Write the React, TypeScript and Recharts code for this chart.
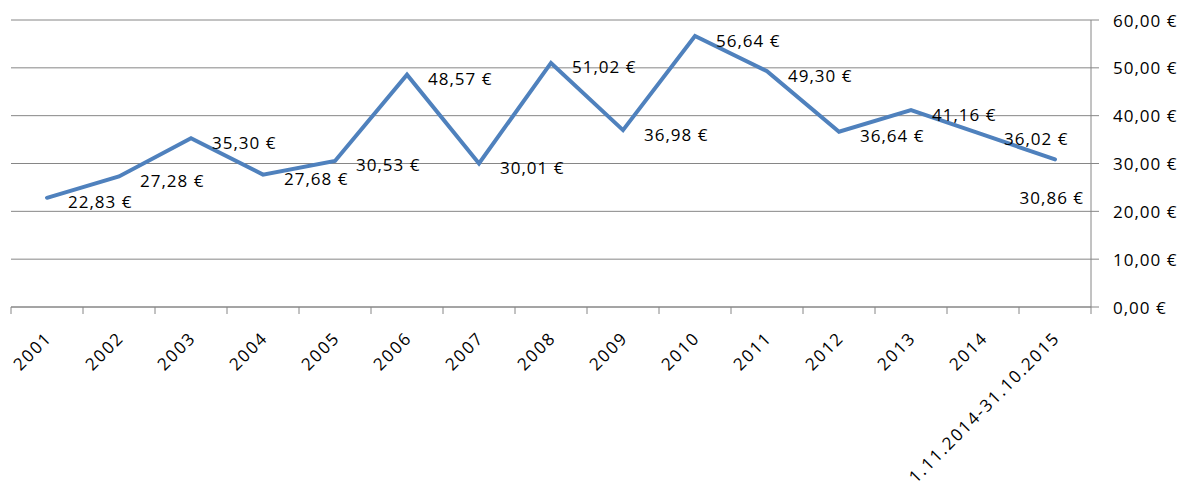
import React from 'react';
import { ComposedChart, Line, XAxis, YAxis, CartesianGrid, LabelList } from 'recharts';

const categories = ['2001', '2002', '2003', '2004', '2005', '2006', '2007', '2008', '2009', '2010', '2011', '2012', '2013', '2014', '1.11.2014-31.10.2015'];
const prices = [22.83, 27.28, 35.3, 27.68, 30.53, 48.57, 30.01, 51.02, 36.98, 56.64, 49.3, 36.64, 41.16, 36.02, 30.86];
const yTicks = [0, 10, 20, 30, 40, 50, 60];

const data = categories.map((c, i) => ({ period: c, price: prices[i] }));

const fmt = (v: number) => v.toFixed(2).replace('.', ',') + ' €';

const W = 1185;
const H = 488;
const LEFT = 11;
const TOP = 20;
const PLOT_W = 1080;
const PLOT_H = 287;
const Y_AXIS_W = W - LEFT - PLOT_W;
const X_AXIS_H = H - TOP - PLOT_H;
const BAND = PLOT_W / categories.length;

const GRAY = '#868686';
const BLUE = '#4F81BD';
const FONT = '"Open Sans", sans-serif';
const FS = 17;
const LS = 1;
const XLS = 1.8;

const XTick = (props: any) => {
  const { x, y, payload, index } = props;
  const half = BAND / 2;
  const ax = x + 6;
  const ay = y + 32;
  return (
    <g>
      <line x1={x - half} x2={x - half} y1={y} y2={y + 7} stroke={GRAY} strokeWidth={1} />
      {index === categories.length - 1 && (
        <line x1={x + half} x2={x + half} y1={y} y2={y + 7} stroke={GRAY} strokeWidth={1} />
      )}
      <text
        x={ax}
        y={ay}
        textAnchor="end"
        transform={`rotate(-45, ${ax}, ${ay})`}
        fill="#000"
        fontFamily={FONT}
        fontSize={FS}
        letterSpacing={XLS}
      >
        {payload.value}
      </text>
    </g>
  );
};

const YTick = (props: any) => {
  const { y, payload } = props;
  const axisX = LEFT + PLOT_W;
  return (
    <g>
      <line x1={axisX} x2={axisX + 8} y1={y} y2={y} stroke={GRAY} strokeWidth={1} />
      <text
        x={axisX + 22}
        y={y}
        textAnchor="start"
        dominantBaseline="central"
        fill="#000"
        fontFamily={FONT}
        fontSize={FS}
        letterSpacing={LS}
      >
        {fmt(Number(payload.value))}
      </text>
    </g>
  );
};

const renderLabel = (props: any) => {
  const { x, y, value, index } = props;
  const last = index === categories.length - 1;
  return (
    <text
      x={last ? x + 29 : x + 21}
      y={last ? y + 38 : y + 4}
      textAnchor={last ? 'end' : 'start'}
      dominantBaseline="central"
      fill="#000"
      fontFamily={FONT}
      fontSize={FS}
      letterSpacing={LS}
    >
      {fmt(Number(value))}
    </text>
  );
};

export default function App() {
  return (
    <div style={{ position: 'absolute', left: 0, top: 0, width: W, height: H, background: '#fff' }}>
      <ComposedChart
        width={W}
        height={H}
        data={data}
        margin={{ top: TOP, right: 0, bottom: 0, left: LEFT }}
        style={{ fontFamily: FONT }}
      >
        <CartesianGrid vertical={false} stroke={GRAY} strokeWidth={1} />
        <XAxis
          dataKey="period"
          type="category"
          scale="band"
          height={X_AXIS_H}
          interval={0}
          tickLine={false}
          tickSize={0}
          tickMargin={0}
          axisLine={{ stroke: GRAY, strokeWidth: 1 }}
          tick={<XTick />}
        />
        <YAxis
          orientation="right"
          width={Y_AXIS_W}
          domain={[0, 60]}
          ticks={yTicks}
          interval={0}
          tickLine={false}
          tickSize={0}
          tickMargin={0}
          axisLine={{ stroke: GRAY, strokeWidth: 1 }}
          tick={<YTick />}
        />
        <Line
          dataKey="price"
          stroke={BLUE}
          strokeWidth={4}
          strokeLinecap="round"
          dot={false}
          activeDot={false}
          isAnimationActive={false}
        >
          <LabelList dataKey="price" content={renderLabel} />
        </Line>
      </ComposedChart>
    </div>
  );
}
